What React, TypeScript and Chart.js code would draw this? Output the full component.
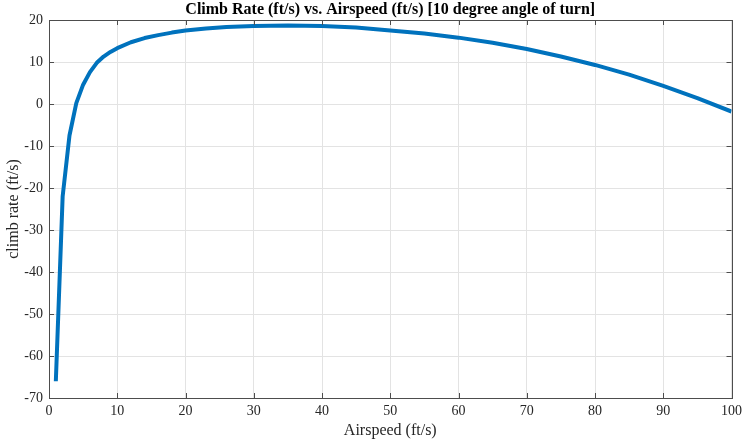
import React, { useEffect, useRef } from "react";
import { Chart, registerables } from "chart.js";

Chart.register(...registerables);

const titleText = "Climb Rate (ft/s) vs. Airspeed (ft/s) [10 degree angle of turn]";
const airspeed = [1, 2, 3, 4, 5, 6, 7, 8, 9, 10, 12, 14, 16, 18, 20, 23, 26, 30, 35, 40, 45, 50, 55, 60, 65, 70, 75, 80, 85, 90, 95, 100];
const climbRate = [-66, -22, -7.5, 0.2, 4.6, 7.6, 9.8, 11.3, 12.4, 13.3, 14.7, 15.7, 16.4, 17.0, 17.5, 18.0, 18.35, 18.6, 18.7, 18.6, 18.2, 17.5, 16.8, 15.8, 14.6, 13.1, 11.3, 9.3, 7.0, 4.3, 1.4, -1.8];
const xTicks = [0, 10, 20, 30, 40, 50, 60, 70, 80, 90, 100];
const yTicks = [-70, -60, -50, -40, -30, -20, -10, 0, 10, 20];

const FONT = "'Liberation Serif', 'Times New Roman', serif";

const boxPlugin = {
  id: "matlabBox",
  afterDatasetsDraw(chart: any) {
    const { ctx, chartArea: a, scales } = chart;
    ctx.save();
    ctx.strokeStyle = "#4d4d4d";
    ctx.lineWidth = 1;
    const L = 5;
    ctx.beginPath();
    for (const v of xTicks) {
      const px = Math.round(scales.x.getPixelForValue(v)) + 0.5;
      ctx.moveTo(px, a.bottom);
      ctx.lineTo(px, a.bottom - L);
      ctx.moveTo(px, a.top);
      ctx.lineTo(px, a.top + L);
    }
    for (const v of yTicks) {
      const py = Math.round(scales.y.getPixelForValue(v)) + 0.5;
      ctx.moveTo(a.left, py);
      ctx.lineTo(a.left + L, py);
      ctx.moveTo(a.right, py);
      ctx.lineTo(a.right - L, py);
    }
    ctx.stroke();
    ctx.strokeRect(Math.round(a.left) + 0.5, Math.round(a.top) + 0.5, Math.round(a.right - a.left), Math.round(a.bottom - a.top));
    ctx.fillStyle = "#000";
    ctx.font = `bold 16px ${FONT}`;
    ctx.textAlign = "center";
    ctx.textBaseline = "middle";
    ctx.fillText(titleText, (a.left + a.right) / 2, 9.5);
    ctx.restore();
  },
};

export default function App() {
  const ref = useRef<HTMLCanvasElement>(null);
  useEffect(() => {
    document.body.style.margin = "0";
    const chart = new Chart(ref.current!, {
      type: "line",
      data: {
        datasets: [
          {
            data: airspeed.map((x, i) => ({ x, y: climbRate[i] })),
            borderColor: "#0072BD",
            borderWidth: 4,
            pointRadius: 0,
            tension: 0,
            borderJoinStyle: "round",
            fill: false,
          },
        ],
      },
      options: {
        animation: false,
        responsive: false,
        layout: { padding: { right: 11.5, left: 0, top: 20, bottom: 0 } },
        plugins: {
          legend: { display: false },
          tooltip: { enabled: false },
          title: { display: false },
        },
        scales: {
          x: {
            type: "linear",
            min: 0,
            max: 100,
            afterBuildTicks: (s: any) => {
              s.ticks = xTicks.map((v) => ({ value: v }));
            },
            afterFit: (s: any) => {
              s.height = 43;
              s.paddingRight = 0;
              s.paddingLeft = 0;
            },
            grid: { color: "#e3e3e3", drawTicks: false },
            border: { display: false },
            ticks: { color: "#262626", font: { family: FONT, size: 14 }, padding: 5, maxRotation: 0 },
            title: {
              display: true,
              text: "Airspeed (ft/s)",
              color: "#262626",
              font: { family: FONT, size: 16 },
              padding: { top: 0, bottom: 1 },
            },
          },
          y: {
            type: "linear",
            min: -70,
            max: 20,
            afterBuildTicks: (s: any) => {
              s.ticks = yTicks.map((v) => ({ value: v }));
            },
            afterFit: (s: any) => {
              s.width = 49;
              s.paddingTop = 0;
              s.paddingBottom = 0;
            },
            grid: { color: "#e3e3e3", drawTicks: false },
            border: { display: false },
            ticks: { color: "#262626", font: { family: FONT, size: 14 }, padding: 6 },
            title: {
              display: true,
              text: "climb rate (ft/s)",
              color: "#262626",
              font: { family: FONT, size: 16 },
              padding: { top: 4, bottom: 0 },
            },
          },
        },
      } as any,
      plugins: [boxPlugin],
    });
    return () => chart.destroy();
  }, []);
  return (
    <div style={{ width: 743, height: 441 }}>
      <canvas ref={ref} width={743} height={441} style={{ display: "block" }} />
    </div>
  );
}
